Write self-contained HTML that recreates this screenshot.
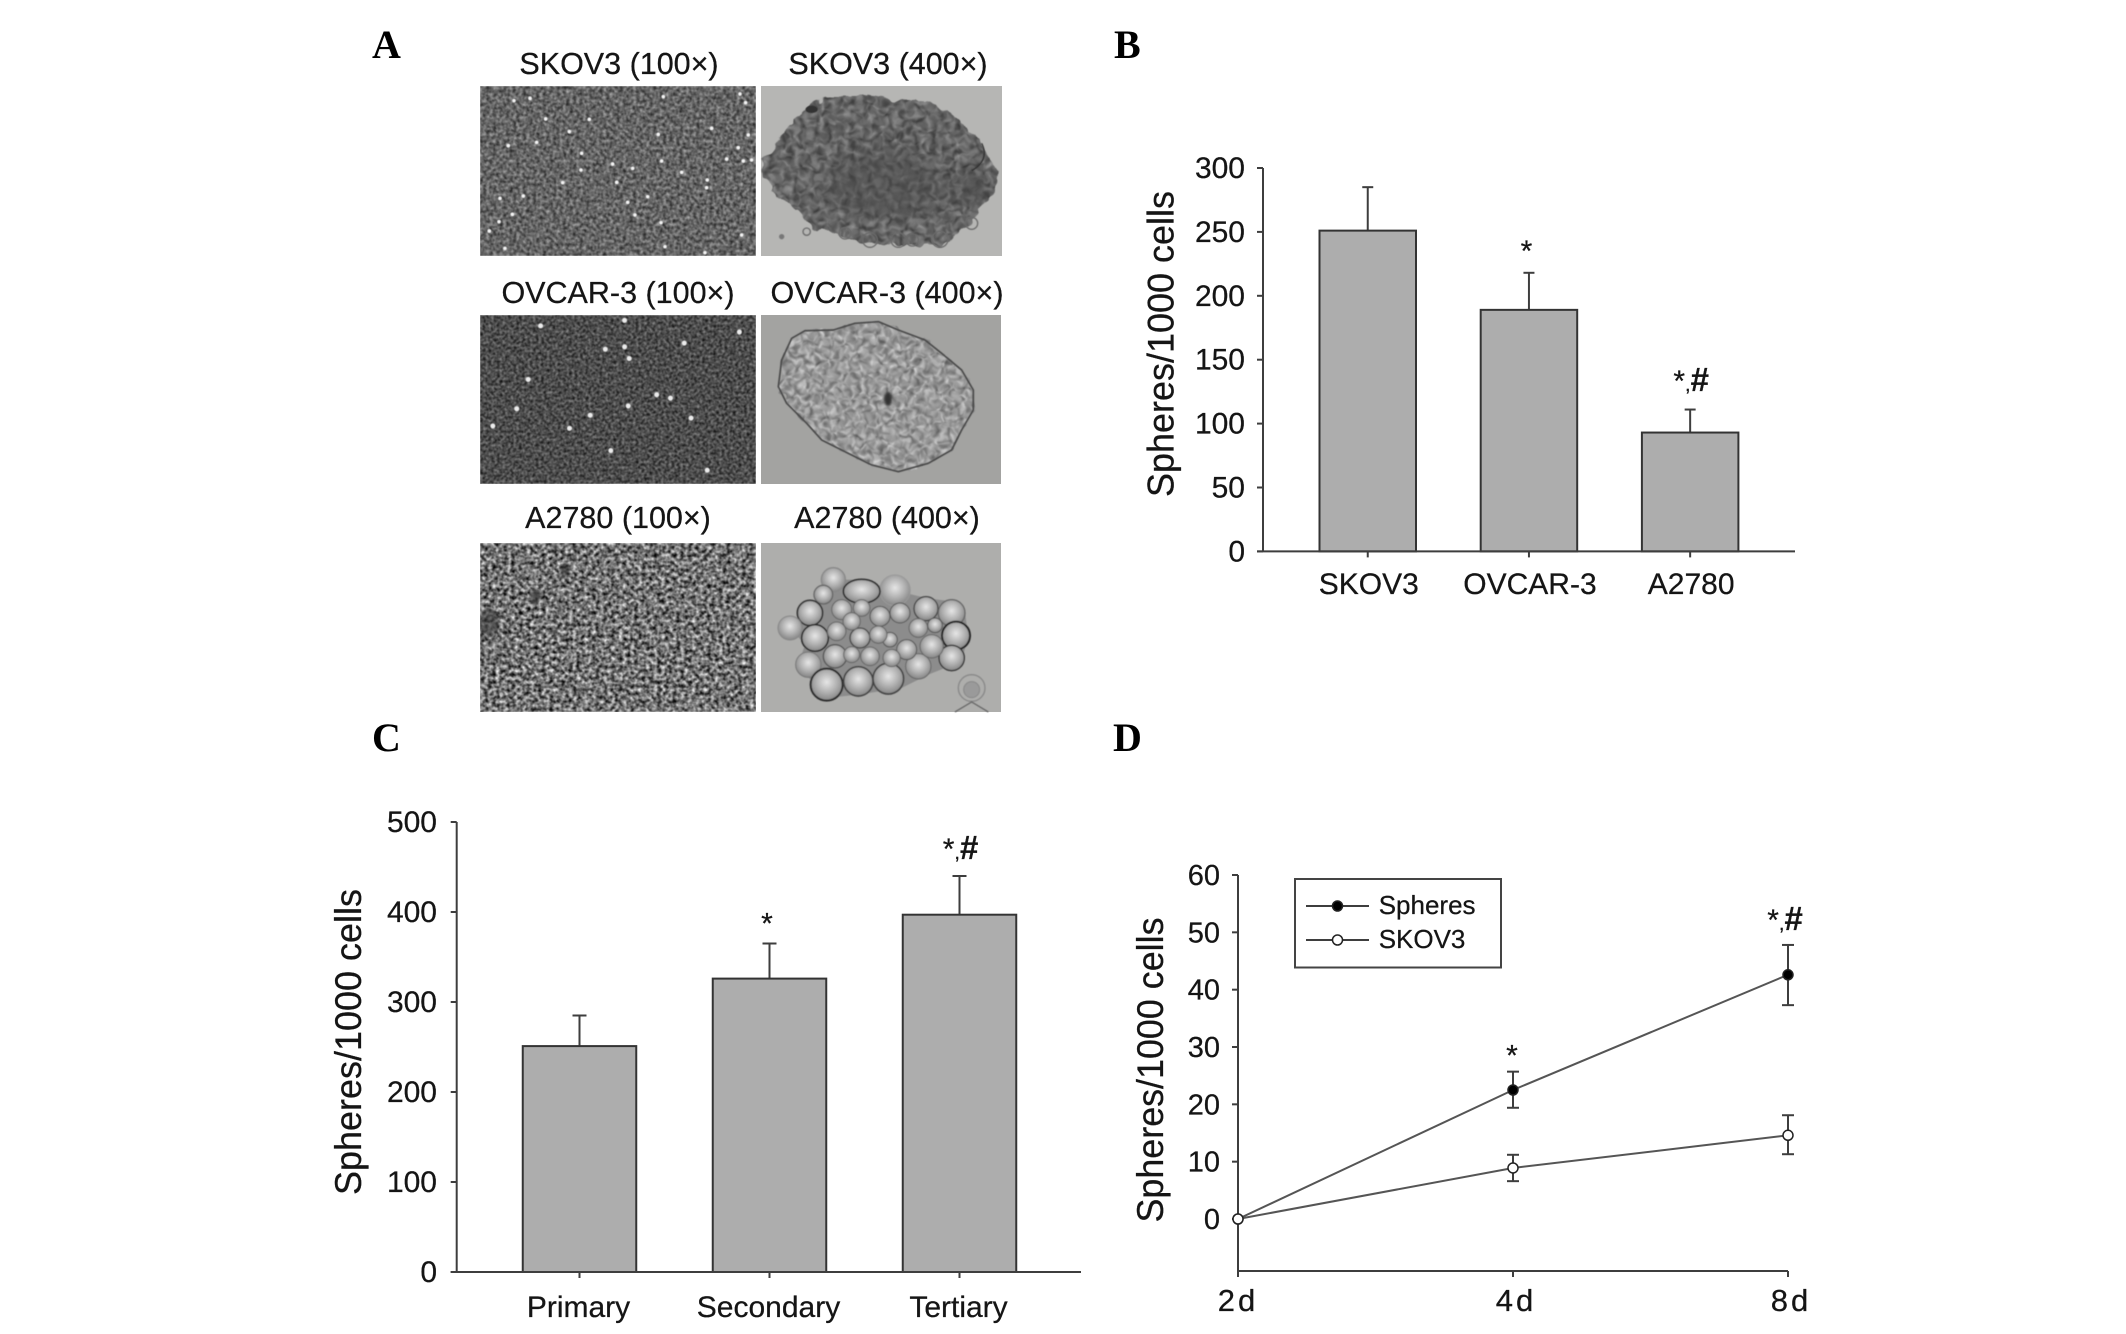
<!DOCTYPE html>
<html lang="en">
<head>
<meta charset="utf-8">
<title>Sphere formation figure</title>
<style>
html,body{margin:0;padding:0;background:#fff;}
svg{display:block;}
text{font-family:"Liberation Sans",sans-serif;fill:#151515;stroke:#151515;stroke-width:.25px;}
.micro-label{font-size:30.5px;text-anchor:middle;}
.panel-letter{font-family:"Liberation Serif",serif;font-weight:bold;font-size:40px;fill:#000;stroke:none;}
</style>
</head>
<body>
<svg id="figure" xmlns="http://www.w3.org/2000/svg" width="2126" height="1334" viewBox="0 0 2126 1334">
<defs>
<filter id="noise-a" x="0" y="0" width="100%" height="100%" color-interpolation-filters="sRGB">
<feTurbulence type="fractalNoise" baseFrequency=".3" numOctaves="2" seed="3"/>
<feColorMatrix values=".75 0 0 0 .02  .75 0 0 0 .02  .75 0 0 0 .02  0 0 0 0 1"/>
<feGaussianBlur stdDeviation=".6"/>
</filter>
<filter id="noise-b" x="0" y="0" width="100%" height="100%" color-interpolation-filters="sRGB">
<feTurbulence type="fractalNoise" baseFrequency=".36" numOctaves="2" seed="8"/>
<feColorMatrix values=".7 0 0 0 -.05  .7 0 0 0 -.05  .7 0 0 0 -.05  0 0 0 0 1"/>
<feGaussianBlur stdDeviation=".6"/>
</filter>
<filter id="noise-c" x="0" y="0" width="100%" height="100%" color-interpolation-filters="sRGB">
<feTurbulence type="fractalNoise" baseFrequency=".26" numOctaves="2" seed="15"/>
<feColorMatrix values="1.5 0 0 0 -.3  1.5 0 0 0 -.3  1.5 0 0 0 -.3  0 0 0 0 1"/>
<feGaussianBlur stdDeviation=".6"/>
</filter>
<filter id="noise-soft" x="0" y="0" width="100%" height="100%" color-interpolation-filters="sRGB">
<feTurbulence type="fractalNoise" baseFrequency=".2" numOctaves="3" seed="21"/>
<feColorMatrix values=".75 0 0 0 .22  .75 0 0 0 .22  .75 0 0 0 .22  0 0 0 0 1"/>
<feGaussianBlur stdDeviation=".7"/>
</filter>
<filter id="noise-dark" x="0" y="0" width="100%" height="100%" color-interpolation-filters="sRGB">
<feTurbulence type="fractalNoise" baseFrequency=".16" numOctaves="3" seed="11"/>
<feColorMatrix values=".55 0 0 0 .12  .55 0 0 0 .12  .55 0 0 0 .12  0 0 0 0 1"/>
<feGaussianBlur stdDeviation=".8"/>
</filter>
<filter id="rough" x="-5%" y="-5%" width="110%" height="110%" color-interpolation-filters="sRGB">
<feTurbulence type="fractalNoise" baseFrequency=".09" numOctaves="2" seed="5" result="t"/>
<feDisplacementMap in="SourceGraphic" in2="t" scale="10" xChannelSelector="R" yChannelSelector="G"/>
<feGaussianBlur stdDeviation=".6"/>
</filter>
<filter id="blur-1" x="-20%" y="-20%" width="140%" height="140%"><feGaussianBlur stdDeviation="1.4"/></filter>
<filter id="blur-8" x="-50%" y="-50%" width="200%" height="200%"><feGaussianBlur stdDeviation="8"/></filter>
<radialGradient id="cell-fill" cx="50%" cy="42%" r="58%">
<stop offset="0" stop-color="#e6e6e6"/><stop offset=".55" stop-color="#b2b2b2"/><stop offset="1" stop-color="#858585"/>
</radialGradient>
<clipPath id="clip-a1"><rect x="480" y="86" width="276" height="170"/></clipPath>
<clipPath id="clip-a3"><rect x="480" y="543" width="276" height="169"/></clipPath>
<clipPath id="skov-blob"><path transform="translate(755 80) scale(.3333)" d="M20 245L60 195L130 110L160 80L230 45L330 45L420 60L520 65L590 105L680 180L700 240L730 270L720 340L670 390L650 430L600 470L560 495L430 495L340 490L260 465L170 445L130 390L60 350L30 300Z"/></clipPath>
<clipPath id="ovcar-blob"><path transform="translate(755 310) scale(.3333)" d="M70 230L80 150L110 85L150 62L235 60L300 40L370 35L430 60L510 90L560 130L620 180L655 240L655 300L620 360L590 420L520 460L430 485L350 465L280 430L200 390L155 340L95 280Z"/></clipPath>
</defs>

<g id="panel-a">
<text class="panel-letter" x="372" y="58">A</text>
<text class="micro-label" x="619" y="74">SKOV3 (100×)</text>
<text class="micro-label" x="888" y="74">SKOV3 (400×)</text>
<text class="micro-label" x="618" y="303">OVCAR-3 (100×)</text>
<text class="micro-label" x="887" y="303">OVCAR-3 (400×)</text>
<text class="micro-label" x="618" y="528">A2780 (100×)</text>
<text class="micro-label" x="887" y="528">A2780 (400×)</text>

<g>
<rect x="480" y="86" width="276" height="170" filter="url(#noise-a)"/>
<g clip-path="url(#clip-a1)">
<path transform="translate(475 80) scale(.3333)" filter="url(#blur-1)" fill="none" stroke="#f4f4f4" stroke-width="11" stroke-linecap="round" d="M795 42h0M812 68h0M565 50h0M117 62h0M165 55h0M212 117h0M343 118h0M283 155h0M550 163h0M710 145h0M820 165h0M185 187h0M100 197h0M790 203h0M320 220h0M413 252h0M560 243h0M755 237h0M830 240h0M805 243h0M473 265h0M620 277h0M697 300h0M695 323h0M263 308h0M425 307h0M318 270h0M518 350h0M145 348h0M75 355h0M458 367h0M480 405h0M112 403h0M558 428h0M43 453h0M72 425h0M800 465h0M690 518h0M570 500h0M90 505h0"/>
</g>
</g>

<g>
<rect x="480" y="315" width="276" height="169" filter="url(#noise-b)"/>
<path transform="translate(340 0) scale(.459 .4655)" filter="url(#blur-1)" fill="none" stroke="#ececec" stroke-width="11" stroke-linecap="round" d="M437 700h0M620 688h0M620 745h0M578 750h0M630 770h0M750 737h0M410 815h0M690 848h0M720 855h0M628 872h0M385 878h0M333 915h0M500 920h0M545 892h0M590 968h0M800 1010h0M870 713h0M765 898h0"/>
</g>

<g>
<rect x="480" y="543" width="276" height="169" filter="url(#noise-c)"/>
<g clip-path="url(#clip-a3)">
<ellipse cx="489" cy="622" rx="10" ry="14" fill="#3a3a3a" opacity=".6" filter="url(#blur-1)"/>
<ellipse cx="565" cy="570" rx="5" ry="7" fill="#333" opacity=".6" filter="url(#blur-1)"/>
<ellipse cx="535" cy="597" rx="5" ry="8" fill="#333" opacity=".6" filter="url(#blur-1)"/>
</g>
</g>

<g>
<rect x="761" y="86" width="241" height="170" fill="#b6b6b4"/>
<g filter="url(#rough)">
<g clip-path="url(#skov-blob)">
<rect x="761" y="86" width="241" height="170" filter="url(#noise-dark)"/>
<ellipse cx="885" cy="185" rx="60" ry="35" fill="#4c4c4c" opacity=".5" filter="url(#blur-8)"/>
<ellipse cx="972" cy="190" rx="16" ry="16" fill="#444" opacity=".6" filter="url(#blur-8)"/>
</g>
</g>
<g transform="translate(755 80) scale(.3333)" fill="none" stroke="#6a6a6a" stroke-width="4" filter="url(#blur-1)">
<circle cx="345" cy="480" r="22"/>
<circle cx="430" cy="480" r="22"/>
<circle cx="472" cy="480" r="18"/>
<circle cx="555" cy="478" r="24"/>
<circle cx="650" cy="430" r="18"/>
<circle cx="270" cy="460" r="17"/>
<circle cx="155" cy="455" r="11"/>
<path d="M680 190Q705 240 650 272" stroke="#333"/>
<ellipse cx="170" cy="88" rx="18" ry="11" fill="#333" stroke="none"/>
<circle cx="80" cy="470" r="8" fill="#777" stroke="none"/>
</g>
</g>

<g>
<rect x="761" y="315" width="240" height="169" fill="#a3a3a1"/>
<g filter="url(#rough)">
<g clip-path="url(#ovcar-blob)">
<rect x="761" y="315" width="240" height="169" filter="url(#noise-soft)"/>
</g>
</g>
<path transform="translate(755 310) scale(.3333)" filter="url(#blur-1)" fill="none" stroke="#4a4a4a" stroke-width="5" stroke-linejoin="round" d="M70 230L80 150L110 85L150 62L235 60L300 40L370 35L430 60L510 90L560 130L620 180L655 240L655 300L620 360L590 420L520 460L430 485L350 465L280 430L200 390L155 340L95 280Z"/>
<ellipse cx="888" cy="399" rx="4" ry="7" fill="#333" filter="url(#blur-1)"/>
</g>

<g>
<rect x="761" y="543" width="240" height="169" fill="#aeaeac"/>
<g transform="translate(755 538) scale(.3333)" fill="url(#cell-fill)" filter="url(#blur-1)">
<path d="M105 270L165 225L205 170L235 125L320 125L420 157L513 180L590 190L630 225L640 293L620 370L520 410L440 450L310 470L215 480L170 430L130 380L150 320Z" fill="#8c8c8c"/>
<circle cx="235" cy="125" r="36" stroke="#888" stroke-width="4"/>
<circle cx="420" cy="157" r="46" stroke="#999" stroke-width="3"/>
<ellipse cx="320" cy="160" rx="55" ry="36" stroke="#2c2c2c" stroke-width="5"/>
<circle cx="205" cy="170" r="28" stroke="#666" stroke-width="4"/>
<circle cx="165" cy="225" r="38" stroke="#333" stroke-width="5"/>
<circle cx="513" cy="212" r="36" stroke="#444" stroke-width="4"/>
<circle cx="590" cy="225" r="40" stroke="#666" stroke-width="4"/>
<circle cx="603" cy="293" r="42" stroke="#222" stroke-width="6"/>
<circle cx="105" cy="270" r="36" stroke="#888" stroke-width="3"/>
<circle cx="180" cy="300" r="40" stroke="#2c2c2c" stroke-width="5"/>
<circle cx="160" cy="380" r="38" stroke="#777" stroke-width="3"/>
<circle cx="240" cy="355" r="35" stroke="#555" stroke-width="4"/>
<circle cx="215" cy="440" r="48" stroke="#2a2a2a" stroke-width="6"/>
<circle cx="310" cy="430" r="44" stroke="#444" stroke-width="5"/>
<circle cx="400" cy="422" r="46" stroke="#444" stroke-width="5"/>
<circle cx="490" cy="385" r="38" stroke="#666" stroke-width="3"/>
<circle cx="590" cy="360" r="38" stroke="#333" stroke-width="4"/>
<circle cx="530" cy="325" r="35" stroke="#666" stroke-width="3"/>
<circle cx="455" cy="335" r="30" stroke="#555" stroke-width="3"/>
<circle cx="315" cy="300" r="30" stroke="#444" stroke-width="4"/>
<circle cx="375" cy="235" r="30" stroke="#555" stroke-width="3"/>
<circle cx="435" cy="225" r="30" stroke="#555" stroke-width="3"/>
<circle cx="490" cy="270" r="28" stroke="#666" stroke-width="3"/>
<circle cx="540" cy="262" r="22" stroke="#555" stroke-width="3"/>
<circle cx="260" cy="215" r="30" stroke="#666" stroke-width="3"/>
<circle cx="320" cy="210" r="25" stroke="#666" stroke-width="3"/>
<circle cx="290" cy="250" r="26" stroke="#666" stroke-width="3"/>
<circle cx="405" cy="305" r="22" stroke="#555" stroke-width="3"/>
<circle cx="345" cy="355" r="28" stroke="#666" stroke-width="3"/>
<circle cx="245" cy="280" r="28" stroke="#666" stroke-width="3"/>
<circle cx="370" cy="290" r="26" stroke="#666" stroke-width="3"/>
<circle cx="290" cy="350" r="24" stroke="#666" stroke-width="3"/>
<circle cx="410" cy="360" r="26" stroke="#666" stroke-width="3"/>
<circle cx="650" cy="450" r="40" fill="none" stroke="#888" stroke-width="4"/>
<circle cx="650" cy="455" r="24" fill="#9a9a9a" stroke="#888" stroke-width="3"/>
<path d="M600 522L650 492L700 522" fill="none" stroke="#666" stroke-width="4"/>
</g>
</g>
</g>

<text class="panel-letter" x="1114" y="58">B</text>
<text class="panel-letter" x="372" y="751">C</text>
<text class="panel-letter" x="1113" y="751">D</text>
</svg>

<script>
// Panel B data
const lineCategories = ['SKOV3', 'OVCAR-3', 'A2780'];
const lineValues = [251, 189, 93];
const lineErrorTops = [285, 218, 111];
const lineNotes = ['', '*', '*,#'];
const lineTicks = [0, 50, 100, 150, 200, 250, 300];

// Panel C data
const passageCategories = ['Primary', 'Secondary', 'Tertiary'];
const passageValues = [251, 326, 397];
const passageErrorTops = [285, 365, 440];
const passageNotes = ['', '*', '*,#'];
const passageTicks = [0, 100, 200, 300, 400, 500];

// Panel D data
const timeCategories = ['2 d', '4 d', '8 d'];
const spheresValues = [0, 22.5, 42.6];
const spheresHigh = [0, 25.7, 47.8];
const spheresLow = [0, 19.4, 37.3];
const skovValues = [0, 8.9, 14.6];
const skovHigh = [0, 11.2, 18.1];
const skovLow = [0, 6.6, 11.3];
const timeNotes = ['', '*', '*,#'];
const timeTicks = [0, 10, 20, 30, 40, 50, 60];

const SVG_NS = 'http://www.w3.org/2000/svg';
const figure = document.getElementById('figure');
const INK = '#3e3e3e';

function mark(tag, attrs, name, parent) {
  const el = document.createElementNS(SVG_NS, tag);
  for (const key in attrs) el.setAttribute(key, attrs[key]);
  
  
  parent.appendChild(el);
  return el;
}
function label(content, attrs, name, parent) {
  const el = mark('text', attrs, name, parent);
  el.textContent = content;
  return el;
}
function seg(x1, y1, x2, y2, name, parent, width) {
  return mark('line', { x1: x1, y1: y1, x2: x2, y2: y2, stroke: INK, 'stroke-width': width || 2 }, name, parent);
}
function note(content, x, y, name, parent) {
  const el = label('', { x: x, y: y, 'text-anchor': 'middle', 'font-size': 30 }, name, parent);
  if (content === '*') {
    el.textContent = '*';
  } else {
    for (const part of content) {
      const span = document.createElementNS(SVG_NS, 'tspan');
      span.textContent = part;
      if (part === ',') span.setAttribute('font-size', '20');
      if (part === '#') {
        span.setAttribute('font-weight', 'bold');
        span.setAttribute('font-size', '33');
      }
      el.appendChild(span);
    }
  }
}
function yAxis(g, ticks, yScale, axisX, tickLen, labelX, bottomY, fontSize) {
  const top = yScale(ticks[ticks.length - 1]);
  seg(axisX, top, axisX, bottomY, 'y-axis-line', g);
  ticks.forEach(function (t) {
    seg(axisX - tickLen, yScale(t), axisX, yScale(t), 'y-tick-' + t, g);
    label(String(t), { x: labelX, y: yScale(t) + 10, 'text-anchor': 'end', 'font-size': fontSize }, 'y-tick-label-' + t, g);
  });
}
function yTitle(g, baselineX, centerY, length) {
  label('Spheres/1000 cells', {
    x: 0, y: 0, 'text-anchor': 'middle', 'font-size': 37,
    textLength: length, lengthAdjust: 'spacingAndGlyphs',
    transform: 'translate(' + baselineX + ' ' + centerY + ') rotate(-90)'
  }, 'y-axis-title', g);
}
function barChart(cfg) {
  const g = mark('g', {}, cfg.name, figure);
  const y0 = cfg.yZero, yMax = cfg.yTop;
  const maxTick = cfg.ticks[cfg.ticks.length - 1];
  const yScale = function (v) { return y0 - v * (y0 - yMax) / maxTick; };
  const xScale = function (i) { return cfg.firstCenter + i * cfg.step; };
  cfg.categories.forEach(function (cat, i) {
    const x = xScale(i), top = yScale(cfg.values[i]), errTop = yScale(cfg.errors[i]);
    seg(x, errTop, x, top, 'error-bar-' + cat, g);
    seg(x - cfg.cap, errTop, x + cfg.cap, errTop, 'error-cap-' + cat, g);
    mark('rect', {
      x: x - cfg.barWidth / 2, y: top, width: cfg.barWidth, height: y0 - top,
      fill: '#adadad', stroke: '#333', 'stroke-width': 2
    }, 'bar-' + cat, g);
    seg(x, y0, x, y0 + 6, 'x-tick-' + cat, g);
    label(cat, { x: x + cfg.labelShift, y: cfg.catBaseline, 'text-anchor': 'middle', 'font-size': 30 }, 'x-tick-label-' + cat, g);
    if (cfg.notes[i]) {
      const single = cfg.notes[i] === '*';
      note(cfg.notes[i], x + (single ? -2.5 : 1), errTop - (single ? cfg.starGap : cfg.hashGap), 'significance-' + cat, g);
    }
  });
  yAxis(g, cfg.ticks, yScale, cfg.axisX, 6, cfg.labelX, y0, 30);
  seg(cfg.axisX - 6, y0, cfg.axisEnd, y0, 'x-axis-line', g);
  yTitle(g, cfg.titleX, cfg.titleY, cfg.titleLen);
}

barChart({
  name: 'panel-b-chart', categories: lineCategories, values: lineValues, errors: lineErrorTops,
  notes: lineNotes, ticks: lineTicks, yZero: 551.4, yTop: 168, axisX: 1263, axisEnd: 1795,
  firstCenter: 1367.75, step: 161.2, barWidth: 96.5, cap: 5.5, labelShift: 1,
  catBaseline: 594, labelX: 1245, titleX: 1173.5, titleY: 344, titleLen: 306, starGap: 12, hashGap: 18.5
});
barChart({
  name: 'panel-c-chart', categories: passageCategories, values: passageValues, errors: passageErrorTops,
  notes: passageNotes, ticks: passageTicks, yZero: 1272, yTop: 822, axisX: 456.7, axisEnd: 1081,
  firstCenter: 579.5, step: 190, barWidth: 113.5, cap: 7, labelShift: -1,
  catBaseline: 1317, labelX: 437, titleX: 361, titleY: 1042, titleLen: 306, starGap: 10, hashGap: 17
});

// Panel D: line chart
(function () {
  const g = mark('g', {}, 'panel-d-chart', figure);
  const y0 = 1219, yMax = 875, axisX = 1238, axisY = 1271, step = 275;
  const maxTick = timeTicks[timeTicks.length - 1];
  const yScale = function (v) { return y0 - v * (y0 - yMax) / maxTick; };
  const xScale = function (i) { return axisX + i * step; };
  yAxis(g, timeTicks, yScale, axisX, 6, 1220, axisY, 29);
  seg(axisX, axisY, xScale(timeCategories.length - 1), axisY, 'x-axis-line', g);
  timeCategories.forEach(function (cat, i) {
    seg(xScale(i), axisY, xScale(i), axisY + 6, 'x-tick-' + cat, g);
    label(cat.replace(' ', ''), {
      x: xScale(i) + (i === 0 ? 0 : 3), y: 1311, 'text-anchor': 'middle', 'font-size': 31, 'letter-spacing': 3
    }, 'x-tick-label-' + cat, g);
  });
  function series(name, values, high, low, fill) {
    const s = mark('g', {}, 'series-' + name, g);
    const points = values.map(function (v, i) { return xScale(i) + ',' + yScale(v); }).join(' ');
    mark('polyline', { points: points, fill: 'none', stroke: '#555', 'stroke-width': 2 }, 'line-' + name, s);
    values.forEach(function (v, i) {
      const x = xScale(i);
      if (high[i] !== low[i]) {
        seg(x, yScale(high[i]), x, yScale(low[i]), 'error-bar-' + name + '-' + i, s);
        seg(x - 6, yScale(high[i]), x + 6, yScale(high[i]), 'error-cap-high-' + name + '-' + i, s);
        seg(x - 6, yScale(low[i]), x + 6, yScale(low[i]), 'error-cap-low-' + name + '-' + i, s);
      }
      mark('circle', { cx: x, cy: yScale(v), r: 5, fill: fill, stroke: '#222', 'stroke-width': 1.5 }, 'point-' + name + '-' + i, s);
    });
  }
  series('spheres', spheresValues, spheresHigh, spheresLow, '#000');
  series('skov3', skovValues, skovHigh, skovLow, '#fff');
  timeNotes.forEach(function (n, i) {
    if (n) {
      const single = n === '*';
      note(n, xScale(i) - (single ? 1 : 3), yScale(spheresHigh[i]) - (single ? 6 : 15), 'significance-' + timeCategories[i], g);
    }
  });
  yTitle(g, 1163, 1070, 305);

  const legend = mark('g', {}, 'legend', g);
  mark('rect', { x: 1295, y: 879, width: 206, height: 88.5, fill: '#fff', stroke: '#444', 'stroke-width': 2 }, 'legend-box', legend);
  const entries = [['Spheres', '#000'], ['SKOV3', '#fff']];
  entries.forEach(function (entry, i) {
    const rowY = 906 + i * 34;
    seg(1306, rowY, 1369, rowY, 'legend-line-' + entry[0], legend);
    mark('circle', { cx: 1337.5, cy: rowY, r: 5, fill: entry[1], stroke: '#222', 'stroke-width': 1.5 }, 'legend-marker-' + entry[0], legend);
    label(entry[0], { x: 1378.7, y: rowY + 8, 'font-size': 26 }, 'legend-entry-' + entry[0], legend);
  });
})();
</script>
</body>
</html>
